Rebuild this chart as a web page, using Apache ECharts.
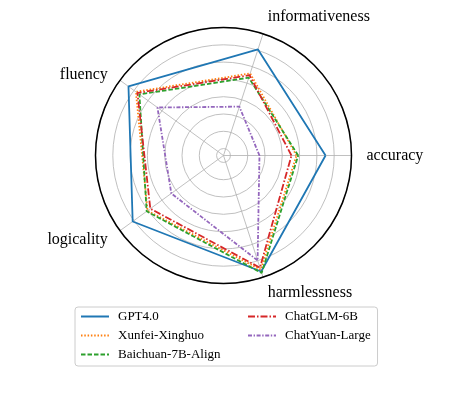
<!DOCTYPE html>
<html>
<head>
<meta charset="utf-8">
<script src="https://cdn.jsdelivr.net/npm/echarts@6/dist/echarts.min.js"></script>
<style>
html, body { margin: 0; padding: 0; background: #fff; }
#chart-container { width: 475px; height: 396px; }
</style>
</head>
<body>
<div id="chart-container"></div>
<script>
// radar dimensions, counter-clockwise from 3 o'clock
const dimensions = ['accuracy', 'informativeness', 'fluency', 'logicality', 'harmlessness']
const models = ['GPT4.0', 'Xunfei-Xinghuo', 'Baichuan-7B-Align', 'ChatGLM-6B', 'ChatYuan-Large']

// scores (same order as dimensions)
const gpt4 = [6.50, 7.05, 7.39, 7.09, 7.65]
const xunfei = [4.82, 5.59, 6.86, 6.03, 7.54]
const baichuan = [4.92, 5.33, 6.61, 6.09, 7.74]
const chatglm = [4.53, 5.48, 6.75, 5.83, 7.42]
const chatyuan = [2.68, 3.57, 5.32, 4.33, 6.98]

// radial range (rings fall on whole numbers)
const rMin = 0.6
const rMax = 8

const scores = [gpt4, xunfei, baichuan, chatglm, chatyuan]
const colors = ['#1f77b4', '#ff7f0e', '#2ca02c', '#d62728', '#9467bd']
const dashes = ['solid', [1.5, 1.8], [4.5, 2], [7, 2, 1.5, 2], [4, 1.6, 1.4, 1.6]]
// nudge labels so they sit like matplotlib's centred ones
const labelPads = [[0, 0, 0, 0], [0, 0, -5, 0], [0, 0, -11, 0], [-8, 0, 0, 0], [-7, 0, 0, 0]]

const serif = 'Liberation Serif'
const center = [223.5, 155.5]
const radius = 128

// close the polygon by going back to the first point
const closeLoop = vals => vals.map((v, i) => [v, i]).concat([[vals[0], 0]])

const myChart = echarts.init(document.getElementById('chart-container'))

const legendCommon = {
    orient: 'vertical',
    top: 307,
    itemWidth: 28,
    itemHeight: 14,
    itemGap: 6,
    itemStyle: { opacity: 0 },
    textStyle: { fontFamily: serif, fontSize: 13, color: '#000', padding: [0, 0, 0, 4] }
}

const option = {
    backgroundColor: '#fff',
    animation: false,
    polar: [
        { center: center, radius: radius },
        { center: center, radius: radius }
    ],
    angleAxis: [
        {
            // grid: full circle + spokes
            polarIndex: 0,
            type: 'value',
            min: 0,
            max: dimensions.length,
            interval: 1,
            startAngle: 0,
            clockwise: false,
            z: 3,
            axisLine: { lineStyle: { color: '#000', width: 1.5 } },
            axisTick: { show: false },
            axisLabel: { show: false },
            splitLine: { show: true, lineStyle: { color: '#b0b0b0', width: 0.8 } }
        },
        {
            // category names only
            polarIndex: 1,
            type: 'category',
            data: dimensions.map((name, i) => ({ value: name, textStyle: { padding: labelPads[i] } })),
            boundaryGap: false,
            startAngle: 0,
            clockwise: false,
            axisLine: { show: false },
            axisTick: { show: false },
            splitLine: { show: false },
            axisLabel: { margin: 15, fontFamily: serif, fontSize: 16, color: '#000' }
        }
    ],
    radiusAxis: [
        {
            polarIndex: 0,
            type: 'value',
            min: rMin,
            max: rMax,
            splitNumber: 7,
            z: 1,
            axisLine: { show: false },
            axisTick: { show: false },
            axisLabel: { show: false },
            splitLine: { show: true, lineStyle: { color: '#b0b0b0', width: 0.8 } }
        },
        {
            polarIndex: 1,
            type: 'value',
            min: rMin,
            max: rMax,
            axisLine: { show: false },
            axisTick: { show: false },
            axisLabel: { show: false },
            splitLine: { show: false }
        }
    ],
    legend: [
        Object.assign({}, legendCommon, {
            data: models.slice(0, 3),
            left: 75,
            padding: [3, 157, 5, 5],
            borderColor: '#cccccc',
            borderWidth: 1,
            borderRadius: 3
        }),
        Object.assign({}, legendCommon, {
            data: models.slice(3),
            left: 242,
            padding: [3, 5, 5, 5]
        })
    ],
    series: models.map((name, k) => ({
        name: name,
        type: 'line',
        coordinateSystem: 'polar',
        polarIndex: 0,
        symbol: 'none',
        data: closeLoop(scores[k]),
        lineStyle: { color: colors[k], width: 1.8, type: dashes[k] },
        itemStyle: { color: colors[k], opacity: 0 }
    }))
}

option && myChart.setOption(option)
</script>
</body>
</html>
